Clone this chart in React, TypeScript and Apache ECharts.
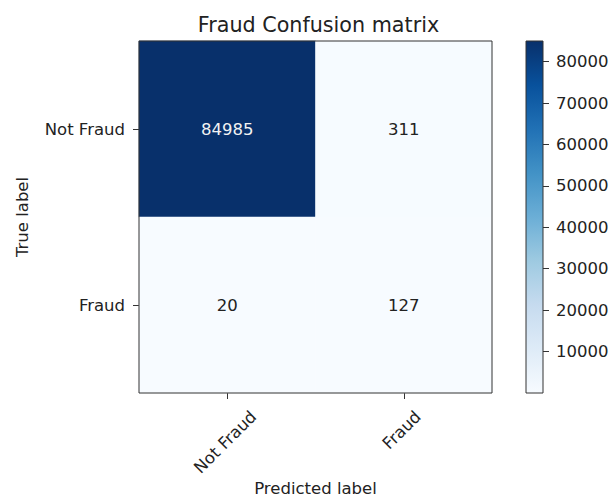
import React, { useEffect, useRef } from "react";
import * as echarts from "echarts";

const predictedLabels = ["Not Fraud", "Fraud"];
const trueLabels = ["Not Fraud", "Fraud"];
// rows = true label, cols = predicted label
const matrix = [
  [84985, 311],
  [20, 127],
];
const colorbarTicks = [10000, 20000, 30000, 40000, 50000, 60000, 70000, 80000];
const titleText = "Fraud Confusion matrix";
const xName = "Predicted label";
const yName = "True label";

const BLUES = [
  "#f7fbff",
  "#deebf7",
  "#c6dbef",
  "#9ecae1",
  "#6baed6",
  "#4292c6",
  "#2171b5",
  "#08519c",
  "#08306b",
];

const FONT = "DejaVu Sans";
const FS = 16.5;
const TXT = "#222";
const GRID = { left: 139, top: 41, width: 353, height: 352 };
const CBAR = { left: 526, top: 41, width: 17, height: 352 };

function measure(text: string): number {
  const c = document.createElement("canvas").getContext("2d");
  if (!c) return text.length * FS * 0.6;
  c.font = `${FS}px "${FONT}"`;
  return c.measureText(text).width;
}

export default function App() {
  const ref = useRef<HTMLDivElement>(null);
  useEffect(() => {
    if (!ref.current) return;
    const chart = echarts.init(ref.current, null, { renderer: "svg" });
    const flat = matrix.flat();
    const vmin = Math.min(...flat);
    const vmax = Math.max(...flat);
    const heatData: any[] = [];
    matrix.forEach((row, r) => {
      row.forEach((v, c) => {
        heatData.push({
          value: [c, r, v],
          label: { color: v > vmax / 2 ? "#f2f2f2" : TXT },
        });
      });
    });
    const gradStops = BLUES.map((c, i) => ({ offset: i / (BLUES.length - 1), color: c }));
    chart.setOption({
      animation: false,
      textStyle: { fontFamily: FONT },
      title: {
        text: titleText,
        left: GRID.left + GRID.width / 2 - 2,
        top: 9,
        textAlign: "center",
        textStyle: { fontFamily: FONT, fontSize: 20.7, fontWeight: "normal", color: TXT },
      },
      grid: [
        { ...GRID, outerBoundsMode: "none", containLabel: false, show: true, z: 5, borderColor: "#333", borderWidth: 1, backgroundColor: "transparent" },
        { ...CBAR, outerBoundsMode: "none", containLabel: false, show: true, z: 5, borderColor: "#333", borderWidth: 1, backgroundColor: "transparent" },
      ],
      xAxis: [
        {
          type: "category",
          gridIndex: 0,
          data: predictedLabels,
          name: xName,
          nameLocation: "middle",
          nameGap: 87,
          nameTextStyle: { fontFamily: FONT, fontSize: FS, color: TXT },
          axisLine: { show: false },
          axisTick: { show: true, alignWithLabel: true, length: 6, lineStyle: { color: "#333" } },
          axisLabel: { show: false },
          splitLine: { show: false },
        },
        {
          type: "category",
          gridIndex: 1,
          data: ["bar"],
          show: false,
        },
      ],
      yAxis: [
        {
          type: "category",
          gridIndex: 0,
          inverse: true,
          data: trueLabels,
          name: yName,
          nameLocation: "middle",
          nameGap: 108,
          nameTextStyle: { fontFamily: FONT, fontSize: FS, color: TXT },
          axisLine: { show: false },
          axisTick: { show: true, alignWithLabel: true, length: 6, lineStyle: { color: "#333" } },
          axisLabel: { margin: 14, fontFamily: FONT, fontSize: FS, color: TXT },
          splitLine: { show: false },
        },
        {
          type: "value",
          gridIndex: 1,
          position: "right",
          min: 0,
          max: vmax,
          interval: 10000,
          axisLine: { show: false },
          axisTick: { show: true, length: 6, lineStyle: { color: "#333" }, interval: 0 },
          axisLabel: {
            margin: 13,
            fontFamily: FONT,
            fontSize: FS,
            color: TXT,
            showMinLabel: false,
            showMaxLabel: false,
            formatter: (v: number) => (colorbarTicks.includes(v) ? String(v) : ""),
          },
          splitLine: { show: false },
        },
      ],
      visualMap: {
        show: false,
        seriesIndex: 0,
        min: vmin,
        max: vmax,
        inRange: { color: BLUES },
      },
      series: [
        {
          type: "heatmap",
          xAxisIndex: 0,
          yAxisIndex: 0,
          data: heatData,
          label: { show: true, fontFamily: FONT, fontSize: FS, formatter: (p: any) => String(p.value[2]) },
          emphasis: { disabled: true },
        },
        {
          type: "bar",
          xAxisIndex: 1,
          yAxisIndex: 1,
          data: [vmax],
          barWidth: "100%",
          itemStyle: {
            color: new echarts.graphic.LinearGradient(0, 1, 0, 0, gradStops),
          },
          silent: true,
        },
      ],
    });

    // Rotated x tick labels, bounding box centred under each tick (matplotlib style)
    const axisY = GRID.top + GRID.height;
    const s45 = Math.SQRT1_2;
    const graphics = predictedLabels.map((lab) => {
      const px = chart.convertToPixel({ xAxisIndex: 0 }, lab) as number;
      const w = measure(lab);
      const half = (s45 * (w + FS)) / 2;
      return {
        type: "text",
        x: px - 2,
        y: axisY + 15 + half,
        rotation: Math.PI / 4,
        style: {
          text: lab,
          fill: TXT,
          font: `${FS}px "${FONT}"`,
          align: "center",
          verticalAlign: "middle",
        },
      };
    });
    chart.setOption({ graphic: graphics });
    return () => chart.dispose();
  }, []);
  return (
    <div
      ref={ref}
      style={{ position: "absolute", left: 0, top: 0, width: 611, height: 502 }}
    />
  );
}
